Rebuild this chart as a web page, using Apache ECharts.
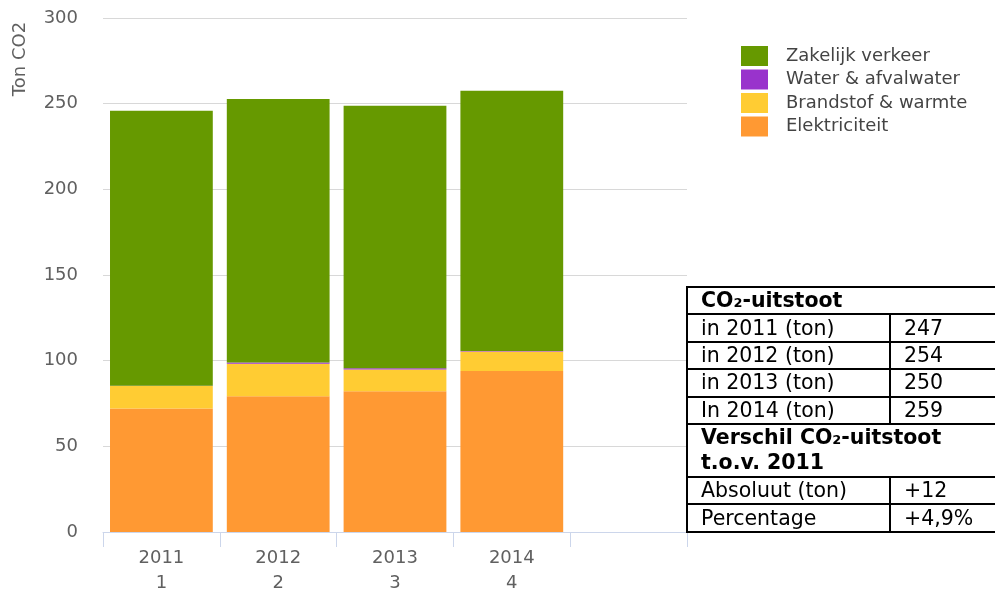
<!DOCTYPE html>
<html>
<head>
<meta charset="utf-8">
<script src="https://cdn.jsdelivr.net/npm/echarts@6/dist/echarts.min.js"></script>
<style>
html, body { margin: 0; padding: 0; background: #fff; overflow: hidden; }
#chart1 { position: absolute; left: 0; top: 0; width: 995px; height: 591px; }
#co2table {
  position: absolute; left: 686px; top: 286px; width: 340px;
  table-layout: fixed;
  border-collapse: collapse;
  font-family: 'DejaVu Sans', Verdana, sans-serif; font-size: 20.5px; color: #000;
}
#co2table td { border: 2px solid #000; padding: 0 0 0 13px; height: 25.4px; line-height: 25px; white-space: nowrap; }
#co2table td.head { font-weight: bold; }
#co2table td.two { height: 51px; line-height: 25px; }
</style>
</head>
<body>
<div id="chart1"></div>
<table id="co2table">
<colgroup><col style="width:203px"><col style="width:137px"></colgroup>
<tbody id="co2body"></tbody>
</table>
<script>
function $(_) {return document.getElementById(_);}

// categories (5th slot is empty on the axis)
const years = ['2011', '2012', '2013', '2014', ''];
const nrs = ['1', '2', '3', '4', ''];

// values in ton CO2
const elektriciteit = [72.1, 79.3, 82.2, 93.9, null];
const brandstof = [13.1, 18.9, 12.7, 11.5, null];
const water = [0.2, 0.8, 0.7, 0.2, null];
const zakelijk = [160.5, 153.7, 153.2, 152.0, null];

const seriesNames = ['Elektriciteit', 'Brandstof & warmte', 'Water & afvalwater', 'Zakelijk verkeer'];
const seriesColors = ['#ff9933', '#ffcc33', '#9933cc', '#669900'];
const legendOrder = ['Zakelijk verkeer', 'Water & afvalwater', 'Brandstof & warmte', 'Elektriciteit'];

// table at the right
const tableHead1 = 'CO₂-uitstoot';
const tableYears = ['in 2011 (ton)', 'in 2012 (ton)', 'in 2013 (ton)', 'In 2014 (ton)'];
const tableTotals = ['247', '254', '250', '259'];
const tableHead2 = ['Verschil CO₂-uitstoot', 't.o.v. 2011'];
const tableDiffLabels = ['Absoluut (ton)', 'Percentage'];
const tableDiffValues = ['+12', '+4,9%'];

document.addEventListener('DOMContentLoaded', function() {
    buildTable();
    drawChart();
});

function buildTable() {
    let html = '<tr><td class="head" colspan="2">' + tableHead1 + '</td></tr>';
    tableYears.forEach((y, i) => {
        html += '<tr><td>' + y + '</td><td>' + tableTotals[i] + '</td></tr>';
    });
    html += '<tr><td class="head two" colspan="2">' + tableHead2.join('<br>') + '</td></tr>';
    tableDiffLabels.forEach((l, i) => {
        html += '<tr><td>' + l + '</td><td>' + tableDiffValues[i] + '</td></tr>';
    });
    $('co2body').innerHTML = html;
}

function drawChart() {
    const echart1 = echarts.init($('chart1'));
    const values = [elektriciteit, brandstof, water, zakelijk];

    const seriesData = seriesNames.map((name, i) => ({
        name: name,
        type: 'bar',
        stack: 'total',
        barCategoryGap: '12%',
        itemStyle: { color: seriesColors[i] },
        emphasis: { disabled: true },
        data: values[i]
    }));

    const option = {
        animation: false,
        textStyle: { fontFamily: 'DejaVu Sans' },
        grid: { left: 103, right: 308, top: 18, bottom: 59, outerBoundsMode: 'none' },
        legend: {
            data: legendOrder,
            orient: 'vertical',
            left: 741,
            top: 46,
            padding: 0,
            itemWidth: 27,
            itemHeight: 20,
            itemGap: 3.5,
            icon: 'rect',
            selectedMode: false,
            textStyle: { fontSize: 18, color: '#444', padding: [0, 0, 0, 13] }
        },
        xAxis: {
            type: 'category',
            data: years.map((y, i) => y + '\n' + nrs[i]),
            axisLine: { lineStyle: { color: '#ccd6eb', width: 1 } },
            axisTick: { show: true, length: 15, lineStyle: { color: '#ccd6eb' } },
            axisLabel: { fontSize: 18, color: '#606060', lineHeight: 25, margin: 14, interval: 0 }
        },
        yAxis: {
            type: 'value',
            min: 0,
            max: 300,
            interval: 50,
            axisLine: { show: false },
            axisTick: { show: false },
            splitLine: { lineStyle: { color: '#d8d8d8' } },
            axisLabel: { fontSize: 18, color: '#606060', margin: 25 }
        },
        graphic: [{
            type: 'text',
            x: 20,
            y: 59,
            rotation: Math.PI / 2,
            style: {
                text: 'Ton CO2',
                fontSize: 18,
                fontFamily: 'DejaVu Sans',
                fill: '#606060',
                align: 'center',
                verticalAlign: 'middle'
            }
        }],
        series: seriesData
    };

    echart1.setOption(option);
}
</script>
</body>
</html>
